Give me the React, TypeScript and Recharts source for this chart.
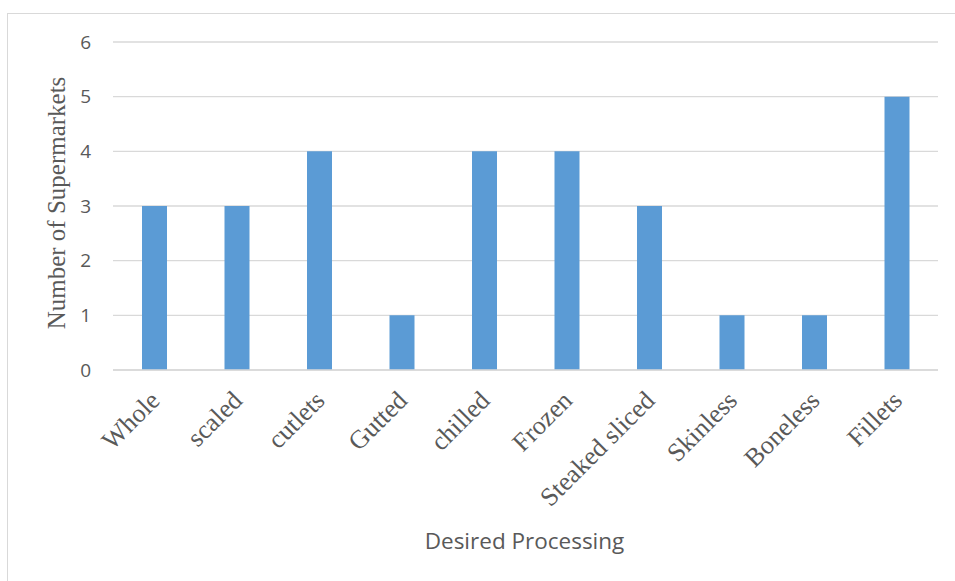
import { BarChart, Bar, XAxis, YAxis, CartesianGrid, Label } from 'recharts';

const categories = ['Whole', 'scaled', 'cutlets', 'Gutted', 'chilled', 'Frozen', 'Steaked sliced', 'Skinless', 'Boneless', 'Fillets'];
const supermarkets = [3, 3, 4, 1, 4, 4, 3, 1, 1, 5];
const yTicks = [0, 1, 2, 3, 4, 5, 6];

const data = categories.map((name, i) => ({ name, count: supermarkets[i] }));

const SANS = '"Open Sans", sans-serif';
const SERIF = '"Liberation Serif", "Times New Roman", serif';
const TEXT = '#595959';

// rotated serif category labels under each bar
function SlantTick(props: any) {
    const { x, y, payload } = props;
    const ax = x + 7;
    const ay = y + 24;
    return (
        <text
            x={ax}
            y={ay}
            transform={`rotate(-45, ${ax}, ${ay})`}
            textAnchor="end"
            fontFamily={SERIF}
            fontSize={26}
            fill={TEXT}
        >
            {payload.value}
        </text>
    );
}

export default function App() {
    return (
        <div style={{ position: 'absolute', left: 0, top: 0, width: 955, height: 581, background: '#fff' }}>
            {/* outer chart frame */}
            <div
                style={{
                    position: 'absolute',
                    left: 7,
                    top: 13,
                    width: 950,
                    height: 580,
                    border: '1px solid #d9d9d9',
                    boxSizing: 'border-box',
                }}
            />
            <div style={{ position: 'absolute', left: 0, top: 0 }}>
                <BarChart
                    width={955}
                    height={581}
                    data={data}
                    margin={{ top: 42, right: 17, bottom: 0, left: 0 }}
                >
                    <CartesianGrid vertical={false} stroke="#d9d9d9" strokeWidth={1.3} />
                    <XAxis
                        dataKey="name"
                        height={211}
                        interval={0}
                        axisLine={{ stroke: '#d9d9d9', strokeWidth: 1.3 }}
                        tickLine={false}
                        tick={<SlantTick />}
                    >
                        <Label
                            content={(p: any) => (
                                <text
                                    x={p.viewBox.x + p.viewBox.width / 2 - 1}
                                    y={p.viewBox.y + 179}
                                    textAnchor="middle"
                                    fontFamily={SANS}
                                    fontSize={22.5}
                                    fill={TEXT}
                                >
                                    Desired Processing
                                </text>
                            )}
                        />
                    </XAxis>
                    <YAxis
                        width={113}
                        domain={[0, 6]}
                        ticks={yTicks}
                        interval={0}
                        axisLine={false}
                        tickLine={false}
                        tickSize={0}
                        tickMargin={22}
                        tick={{ fill: TEXT, fontSize: 19, fontFamily: SANS }}
                    >
                        <Label
                            content={() => (
                                <text
                                    x={65}
                                    y={203}
                                    transform="rotate(-90, 65, 203)"
                                    textAnchor="middle"
                                    fontFamily={SERIF}
                                    fontSize={25}
                                    fill={TEXT}
                                >
                                    Number of Supermarkets
                                </text>
                            )}
                        />
                    </YAxis>
                    <Bar dataKey="count" fill="#5b9bd5" barSize={25} isAnimationActive={false} />
                </BarChart>
            </div>
        </div>
    );
}
